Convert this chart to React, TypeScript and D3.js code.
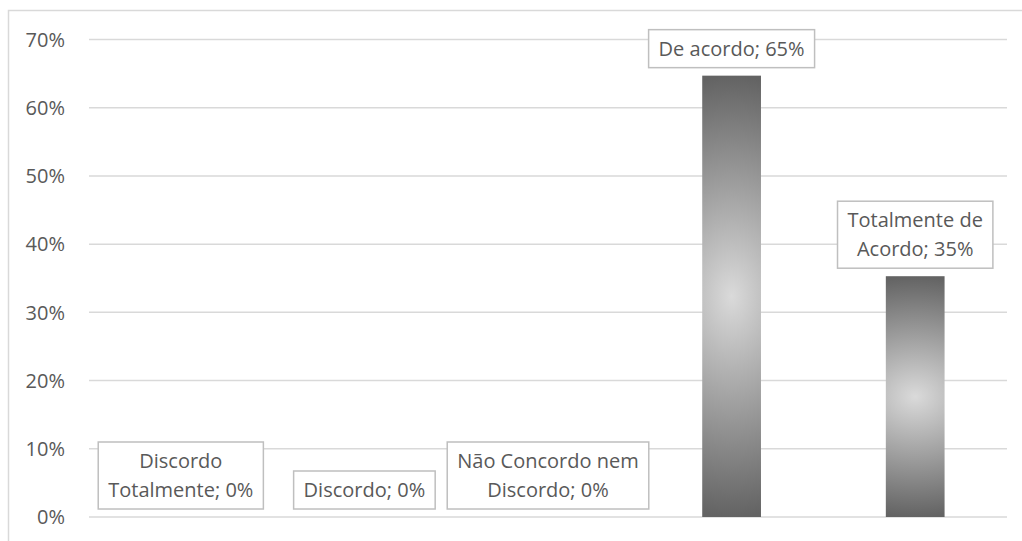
import React, { useRef, useEffect } from 'react';
import * as d3 from 'd3';

// categories ("\n" marks where the data label wraps)
const categories = [
    'Discordo\nTotalmente',
    'Discordo',
    'Não Concordo nem\nDiscordo',
    'De acordo',
    'Totalmente de\nAcordo',
];
const values = [0, 0, 0, 64.7, 35.3];
const yTicks = [0, 10, 20, 30, 40, 50, 60, 70];

const WIDTH = 1022;
const HEIGHT = 541;
const FONT = '"Open Sans", "DejaVu Sans", sans-serif';
const FONT_SIZE = 20;
const TEXT_COLOR = '#595959';
const GRID_COLOR = '#d9d9d9';

const margin = { left: 89, right: 15, top: 39.5, bottom: 24 };

const App: React.FC = () => {
    const svgRef = useRef<SVGSVGElement>(null);

    useEffect(() => {
        if (!svgRef.current) return;
        const svg = d3.select(svgRef.current);
        svg.selectAll('*').remove();

        const x = d3.scaleBand<string>()
            .domain(categories)
            .range([margin.left, WIDTH - margin.right])
            .paddingInner(0.68)
            .paddingOuter(0.34);

        const y = d3.scaleLinear()
            .domain([0, 70])
            .range([HEIGHT - margin.bottom, margin.top]);

        const defs = svg.append('defs');
        const grad = defs.append('radialGradient')
            .attr('id', 'barGrad')
            .attr('cx', 0.5).attr('cy', 0.5).attr('r', 0.5)
            .attr('gradientTransform', 'translate(0.5,0.5) scale(5,1) translate(-0.5,-0.5)');
        grad.append('stop').attr('offset', '0%').attr('stop-color', '#dadada');
        grad.append('stop').attr('offset', '100%').attr('stop-color', '#636363');

        // chart area border
        svg.append('rect')
            .attr('x', 8.5).attr('y', 10.5)
            .attr('width', WIDTH + 20).attr('height', HEIGHT + 20)
            .attr('fill', 'none')
            .attr('stroke', GRID_COLOR)
            .attr('stroke-width', 1.5);

        // gridlines
        svg.append('g')
            .selectAll('line')
            .data(yTicks)
            .join('line')
            .attr('x1', margin.left)
            .attr('x2', WIDTH - margin.right)
            .attr('y1', d => y(d))
            .attr('y2', d => y(d))
            .attr('stroke', GRID_COLOR)
            .attr('stroke-width', 1.5);

        // y tick labels
        svg.append('g')
            .selectAll('text')
            .data(yTicks)
            .join('text')
            .attr('x', 65)
            .attr('y', d => y(d) + FONT_SIZE * 0.36)
            .attr('text-anchor', 'end')
            .attr('font-family', FONT)
            .attr('font-size', FONT_SIZE)
            .attr('fill', TEXT_COLOR)
            .text(d => `${d}%`);

        // bars
        svg.append('g')
            .selectAll('rect')
            .data(values)
            .join('rect')
            .attr('x', (_, i) => x(categories[i])!)
            .attr('width', x.bandwidth())
            .attr('y', d => y(d))
            .attr('height', d => y(0) - y(d))
            .attr('fill', 'url(#barGrad)');

        // data labels
        const lineH = 29;
        const padX = 10;
        const padY = 4.5;
        const labels = svg.append('g');
        values.forEach((v, i) => {
            const lines = `${categories[i]}; ${d3.format('.0f')(v)}%`.split('\n');
            const cx = x(categories[i])! + x.bandwidth() / 2;
            const boxH = lines.length * lineH + padY * 2;
            const bottom = y(v) - 8;
            const top = bottom - boxH;
            const g = labels.append('g');
            const box = g.append('rect');
            const txt = g.append('text')
                .attr('font-family', FONT)
                .attr('font-size', FONT_SIZE)
                .attr('fill', TEXT_COLOR)
                .attr('text-anchor', 'middle');
            lines.forEach((ln, j) => {
                txt.append('tspan')
                    .attr('x', cx)
                    .attr('y', top + padY + lineH * j + lineH / 2 + FONT_SIZE * 0.36)
                    .text(ln);
            });
            const w = (txt.node() as SVGTextElement).getBBox().width + padX * 2;
            box.attr('x', cx - w / 2)
                .attr('y', top)
                .attr('width', w)
                .attr('height', boxH)
                .attr('fill', '#ffffff')
                .attr('stroke', '#bfbfbf')
                .attr('stroke-width', 1.5);
        });

        return () => {
            svg.selectAll('*').remove();
        };
    }, []);

    return (
        <svg
            ref={svgRef}
            width={WIDTH}
            height={HEIGHT}
            style={{ position: 'absolute', left: 0, top: 0, background: '#ffffff' }}
        />
    );
};

export default App;
